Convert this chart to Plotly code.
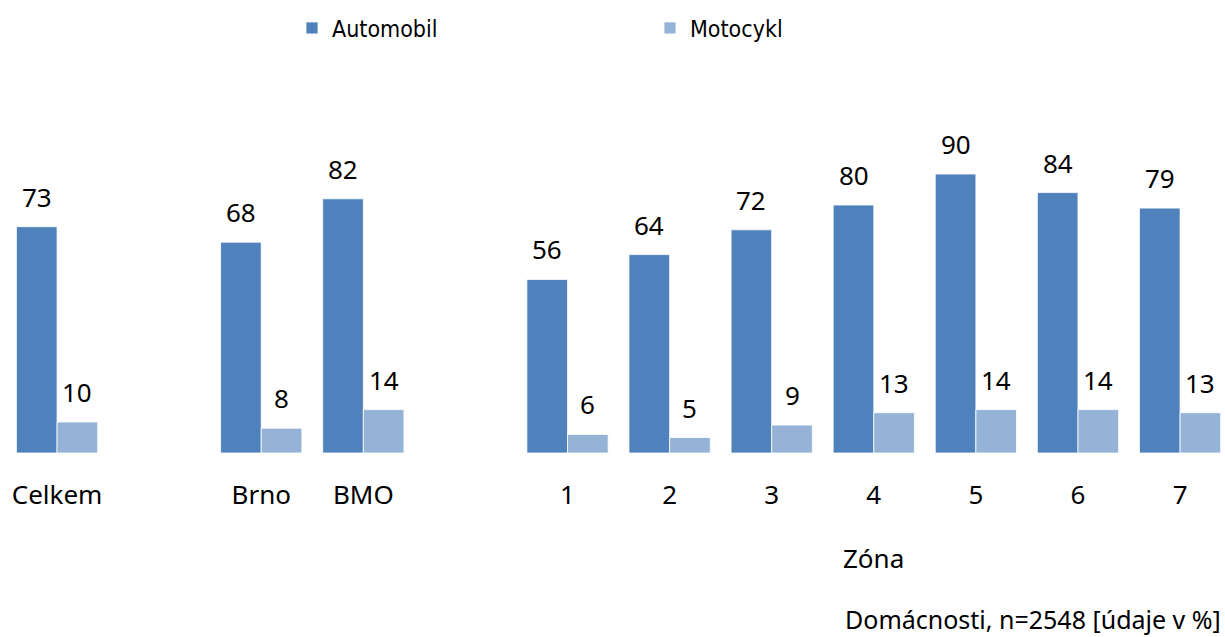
import plotly.graph_objects as go

categories = ["Celkem", " ", "Brno", "BMO", "  ", "1", "2", "3", "4", "5", "6", "7"]
automobil = [73, None, 68, 82, None, 56, 64, 72, 80, 90, 84, 79]
motocykl = [10, None, 8, 14, None, 6, 5, 9, 13, 14, 14, 13]

FONT = "Noto Sans"
LEG_FONT = "Liberation Sans Narrow, DejaVu Sans Condensed, Noto Sans"
C_AUTO = "#4F81BD"
C_MOTO = "#95B3D7"

fig = go.Figure()
fig.add_bar(x=categories, y=automobil, name="Automobil", marker=dict(color=C_AUTO, line=dict(color="#FFFFFF", width=0.8)))
fig.add_bar(x=categories, y=motocykl, name="Motocykl", marker=dict(color=C_MOTO, line=dict(color="#FFFFFF", width=0.8)))

annotations = []
for i, (a, m) in enumerate(zip(automobil, motocykl)):
    if a is not None:
        annotations.append(dict(x=i, y=a, text=str(a), showarrow=False, xshift=-20.3, yshift=10,
                                yanchor="bottom", font=dict(size=26, color="#000000", family=FONT)))
    if m is not None:
        annotations.append(dict(x=i, y=m, text=str(m), showarrow=False, xshift=20.3, yshift=10,
                                yanchor="bottom", font=dict(size=26, color="#000000", family=FONT)))

annotations.append(dict(x=categories.index("4"), y=0, yref="paper", yshift=-105, text="Zóna", showarrow=False,
                        yanchor="middle", font=dict(size=26, color="#000000", family=FONT)))
annotations.append(dict(x=1, xref="paper", y=0, yref="paper", yshift=-166, xshift=-2, text="Domácnosti, n=2548 [údaje v %]",
                        showarrow=False, xanchor="right", yanchor="middle",
                        font=dict(size=25, color="#000000", family=FONT)))

fig.update_layout(
    width=1225, height=637,
    margin=dict(l=6, r=0, t=142.7, b=184.3),
    paper_bgcolor="white", plot_bgcolor="white",
    barmode="group", bargap=0.204, bargroupgap=0,
    font=dict(family=FONT, color="#000000"),
    showlegend=True,
    legend=dict(orientation="h", x=292/1225, xref="container", xanchor="left",
                y=1 - 28/637, yref="container", yanchor="middle",
                entrywidth=313, entrywidthmode="pixels",
                font=dict(size=23, family=LEG_FONT, color="#000000"), itemclick=False),
    xaxis=dict(type="category", categoryorder="array", categoryarray=categories,
               range=[-0.5, 11.44], showgrid=False, showline=False, zeroline=False,
               ticks="", ticklabelstandoff=24, tickfont=dict(size=26, family=FONT, color="#000000")),
    yaxis=dict(range=[0, 100], visible=False, showgrid=False, zeroline=False),
    annotations=annotations,
)

fig.write_html("out.html", config={"displayModeBar": False},
               post_script="document.body.style.margin='0';document.body.style.overflow='hidden';")
